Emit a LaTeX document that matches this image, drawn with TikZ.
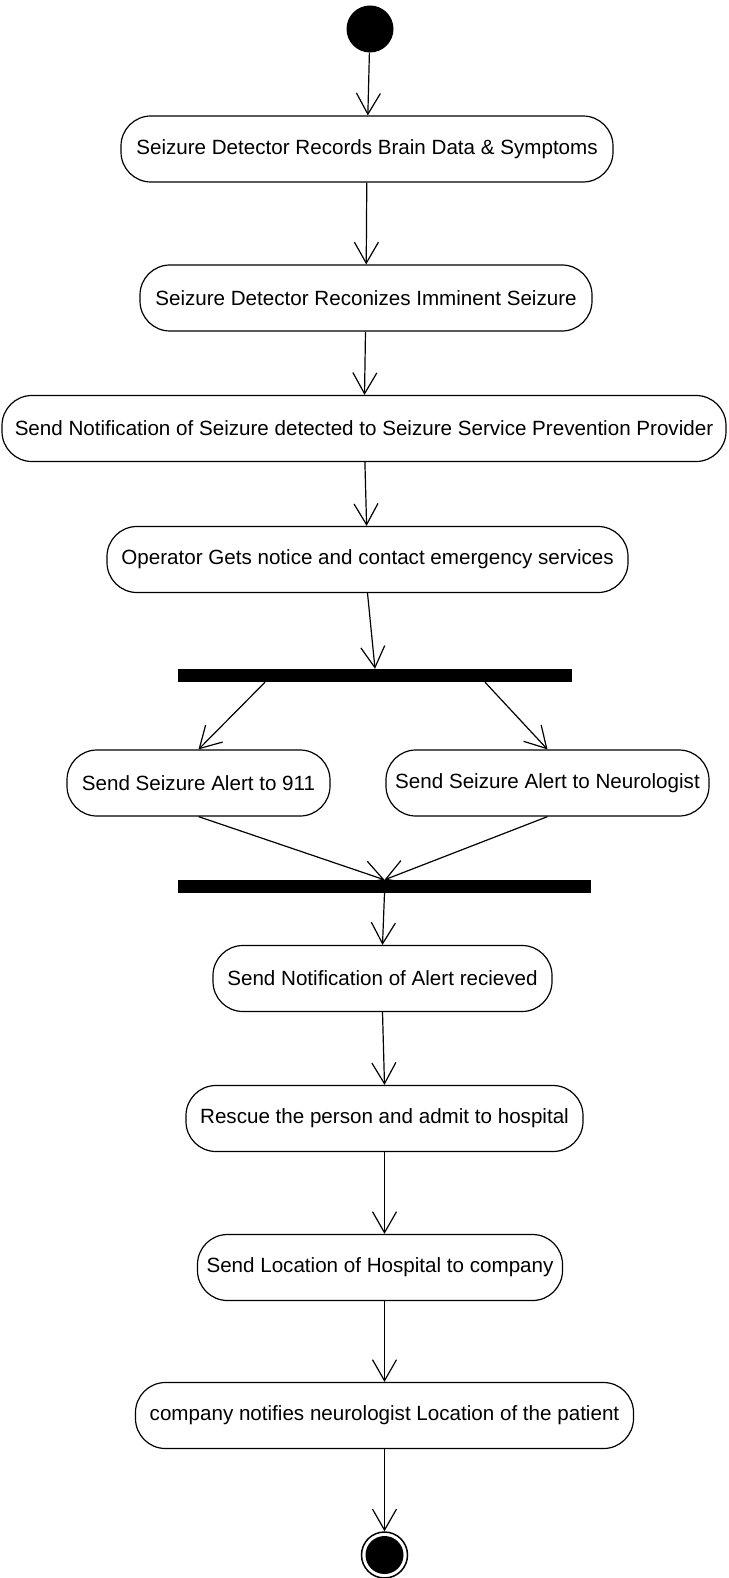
\documentclass[tikz,border=0pt]{standalone}
\usepackage{fontspec}
\setmainfont{Liberation Sans}
\usetikzlibrary{arrows.meta,positioning}

\begin{document}
\begin{tikzpicture}[x=1pt, y=-1pt,
    activity/.style={draw, rectangle, rounded corners=30pt, line width=1.2pt, minimum height=66pt, inner xsep=8pt, font=\fontsize{20.6}{24}\selectfont},
    bar/.style={rectangle, fill=black, minimum height=13pt, inner sep=0pt},
    flow/.style={-{Straight Barb[length=21pt,width=24pt]}, line width=1.2pt}]
    \useasboundingbox (0,0) rectangle (728,1578);

    \node[circle, fill=black, minimum size=47pt, inner sep=0pt] (start) at (370,29) {};

    \node[activity, minimum width=492pt] (record) at (367,149) {Seizure Detector Records Brain Data \& Symptoms};
    \node[activity, minimum width=452pt] (recognize) at (366,298) {Seizure Detector Reconizes Imminent Seizure};
    \node[activity, minimum width=724pt] (notify) at (364,428.5) {Send Notification of Seizure detected to Seizure Service Prevention Provider};
    \node[activity, minimum width=521pt] (operator) at (367.5,559.5) {Operator Gets notice and contact emergency services};

    \node[bar, minimum width=394pt] (fork) at (375,675.5) {};
    \node[activity, minimum width=263pt] (alert911) at (198.5,783) {Send Seizure Alert to 911};
    \node[activity, minimum width=323pt] (alertneuro) at (547.5,783) {Send Seizure Alert to Neurologist};
    \node[bar, minimum width=413pt] (join) at (384.5,886.5) {};

    \node[activity, minimum width=339pt] (received) at (382.5,978.5) {Send Notification of Alert recieved};
    \node[activity, minimum width=397pt] (rescue) at (384.5,1118.5) {Rescue the person and admit to hospital};
    \node[activity, minimum width=365pt] (location) at (380,1267.5) {Send Location of Hospital to company};
    \node[activity, minimum width=498pt] (company) at (384.5,1415.5) {company notifies neurologist Location of the patient};

    \node[circle, draw, line width=1.5pt, minimum size=46pt, inner sep=0pt] (stop) at (384.5,1555) {};
    \node[circle, fill=black, minimum size=38pt, inner sep=0pt] (stopdot) at (stop) {};

    \draw[flow] (start) -- (record);
    \draw[flow] (record) -- (recognize);
    \draw[flow] (recognize) -- (notify);
    \draw[flow] (notify) -- (operator);
    \draw[flow] (operator.south) -- (fork.north);
    \draw[flow] ([xshift=-110pt]fork.south) -- (alert911.north);
    \draw[flow] ([xshift=110pt]fork.south) -- (alertneuro.north);
    \draw[flow] (alert911.south) -- (join.north);
    \draw[flow] (alertneuro.south) -- (join.north);
    \draw[flow] (join.south) -- (received.north);
    \draw[flow] (received.south) -- (rescue.north);
    \draw[flow] (rescue.south) -- (rescue.south |- location.north);
    \draw[flow] (location.south -| company.north) -- (company.north);
    \draw[flow] (company) -- (stop);
\end{tikzpicture}
\end{document}
